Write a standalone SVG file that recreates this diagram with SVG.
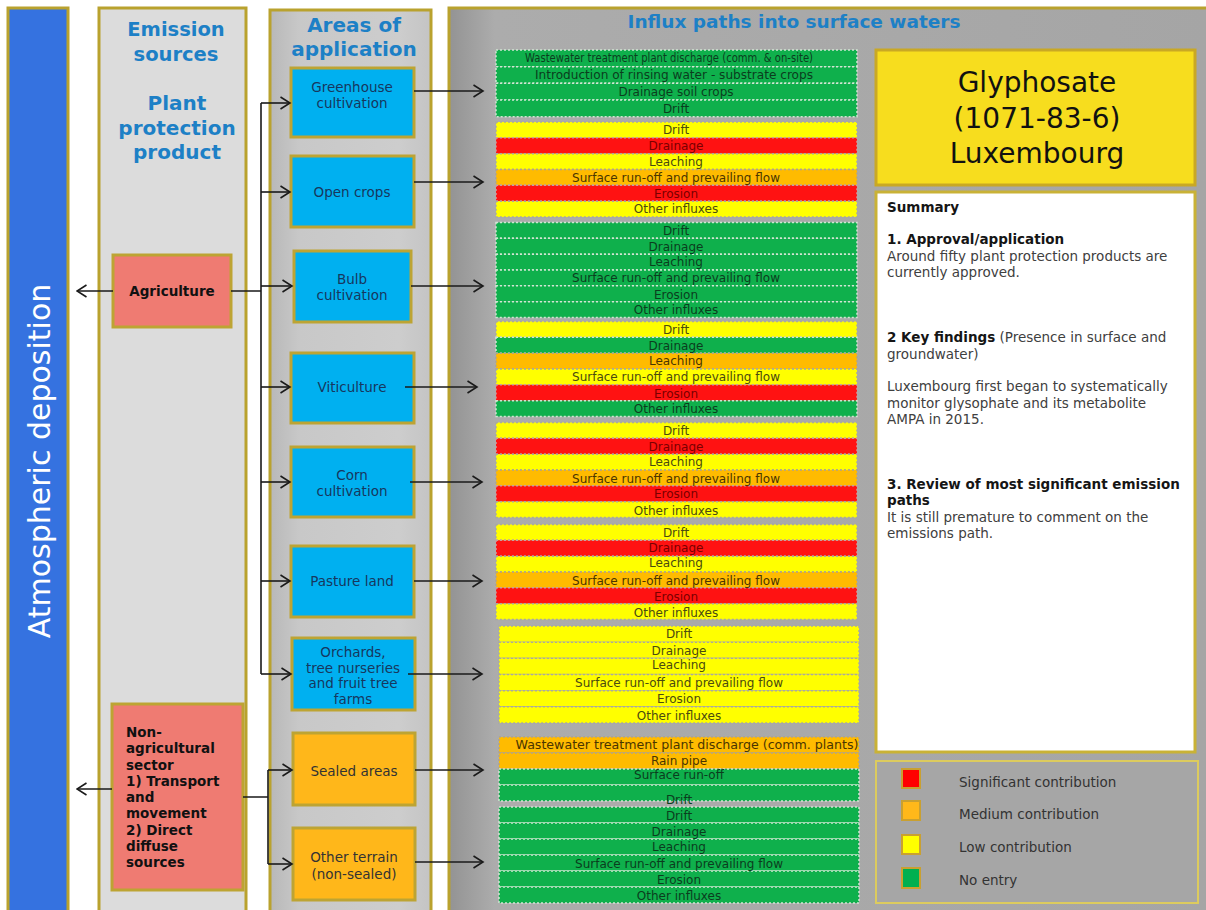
<svg xmlns="http://www.w3.org/2000/svg" width="1206" height="910" viewBox="0 0 1206 910">
<defs>
<linearGradient id="gArea" x1="0" x2="1" y1="0" y2="0"><stop offset="0" stop-color="#b8b8b8"/><stop offset="0.18" stop-color="#c8c8c8"/><stop offset="0.8" stop-color="#cdcdcd"/><stop offset="1" stop-color="#c4c4c4"/></linearGradient>
<linearGradient id="gInflux" x1="0" x2="1" y1="0" y2="0"><stop offset="0" stop-color="#939393"/><stop offset="0.06" stop-color="#acacac"/><stop offset="1" stop-color="#a5a5a5"/></linearGradient>
<marker id="ah" markerWidth="12" markerHeight="14" refX="10.5" refY="7" orient="auto" markerUnits="userSpaceOnUse"><path d="M1,1 L10.5,7 L1,13" fill="none" stroke="#1a1a1a" stroke-width="1.6"/></marker>
</defs>
<style>
.col{stroke:#b9a22e;stroke-width:3}
.hdr{font-family:"DejaVu Sans",Verdana,sans-serif;font-weight:bold;fill:#1d80c6;text-anchor:middle}
.box{stroke:#bda433;stroke-width:3}
.blue{fill:#00b0f0}
.amber{fill:#ffb71a}
.salmon{fill:#ef7b72}
.bt{font-family:"DejaVu Sans",Verdana,sans-serif;font-size:13.5px;fill:#17375e;text-anchor:middle}
.at{font-family:"DejaVu Sans",Verdana,sans-serif;font-size:13.5px;fill:#333;text-anchor:middle}
.st{font-family:"DejaVu Sans",Verdana,sans-serif;font-size:13.5px;font-weight:bold;fill:#111}
.row{stroke-width:1.5;stroke-dasharray:2 2}
.g{fill:#0fb04c;stroke:#cfe6d2}
.y{fill:#ffff00;stroke:#a9a9a0}
.o{fill:#ffbb00;stroke:#b0a48a}
.r{fill:#ff1212;stroke:#c8a0a0}
.rt{font-family:"DejaVu Sans",Verdana,sans-serif;font-size:12px;text-anchor:middle}
.tg{fill:#0b3d1e}.ty{fill:#4a4a10}.to{fill:#4a3500}.tr{fill:#7a0000}
.ln{fill:none;stroke:#1a1a1a;stroke-width:1.6}
.sm{font-family:"DejaVu Sans",Verdana,sans-serif;font-size:13.5px;fill:#404040}
.smb{font-weight:bold;fill:#151515}
.lg{font-family:"DejaVu Sans",Verdana,sans-serif;font-size:13.5px;fill:#333}
</style>
<rect width="1206" height="910" fill="#ffffff"/>

<g id="atmospheric-deposition">
<rect class="col" x="8" y="8" width="60" height="910" fill="#3572e0"/>
<text transform="translate(50,461) rotate(-90)" font-family="DejaVu Sans, Verdana, sans-serif" font-size="30" fill="#ffffff" text-anchor="middle">Atmospheric deposition</text>
</g>

<g id="emission-sources">
<rect class="col" x="99" y="8" width="147" height="910" fill="#dcdcdc"/>
<text class="hdr" font-size="19.5" x="176" y="36">Emission</text>
<text class="hdr" font-size="19.5" x="176" y="61">sources</text>
<text class="hdr" font-size="20" x="177" y="110">Plant</text>
<text class="hdr" font-size="20" x="177" y="135">protection</text>
<text class="hdr" font-size="20" x="177" y="159">product</text>
</g>

<g id="areas-of-application">
<rect class="col" x="270" y="10" width="161" height="905" fill="url(#gArea)"/>
<text class="hdr" font-size="20" x="354" y="32">Areas of</text>
<text class="hdr" font-size="20" x="354" y="56">application</text>
</g>

<g id="influx-paths">
<rect class="col" x="449" y="8" width="760" height="905" fill="url(#gInflux)"/>
<text class="hdr" font-size="18.5" x="794" y="28">Influx paths into surface waters</text>
</g>

<g id="agriculture">
<rect class="box salmon" x="113" y="255" width="118" height="72"/>
<text class="st" x="172" y="296" text-anchor="middle">Agriculture</text>
</g>

<g id="non-agricultural-sector">
<rect class="box salmon" x="112" y="704" width="131" height="186"/>
<text class="st" x="126" y="737">Non-</text>
<text class="st" x="126" y="753">agricultural</text>
<text class="st" x="126" y="769.5">sector</text>
<text class="st" x="126" y="785.5">1) Transport</text>
<text class="st" x="126" y="802">and</text>
<text class="st" x="126" y="818">movement</text>
<text class="st" x="126" y="834.5">2) Direct</text>
<text class="st" x="126" y="850.5">diffuse</text>
<text class="st" x="126" y="867">sources</text>
</g>

<g id="greenhouse-cultivation">
<rect class="box blue" x="291" y="68" width="123" height="69"/>
<text class="bt" x="352" y="92">Greenhouse</text>
<text class="bt" x="352" y="108">cultivation</text>
</g>
<g id="open-crops">
<rect class="box blue" x="291" y="156" width="123" height="71"/>
<text class="bt" x="352" y="197">Open crops</text>
</g>
<g id="bulb-cultivation">
<rect class="box blue" x="294" y="251" width="117" height="71"/>
<text class="bt" x="352" y="284">Bulb</text>
<text class="bt" x="352" y="300">cultivation</text>
</g>
<g id="viticulture">
<rect class="box blue" x="291" y="353" width="123" height="70"/>
<text class="bt" x="352" y="392">Viticulture</text>
</g>
<g id="corn-cultivation">
<rect class="box blue" x="291" y="447" width="123" height="70"/>
<text class="bt" x="352" y="480">Corn</text>
<text class="bt" x="352" y="496">cultivation</text>
</g>
<g id="pasture-land">
<rect class="box blue" x="291" y="546" width="123" height="71"/>
<text class="bt" x="352" y="586">Pasture land</text>
</g>
<g id="orchards">
<rect class="box blue" x="292" y="638" width="123" height="72"/>
<text class="bt" x="353" y="656.5">Orchards,</text>
<text class="bt" x="353" y="672.5">tree nurseries</text>
<text class="bt" x="353" y="688">and fruit tree</text>
<text class="bt" x="353" y="704">farms</text>
</g>
<g id="sealed-areas">
<rect class="box amber" x="293" y="733" width="122" height="72"/>
<text class="at" x="354" y="775.5">Sealed areas</text>
</g>
<g id="other-terrain">
<rect class="box amber" x="293" y="828" width="122" height="72"/>
<text class="at" x="354" y="862">Other terrain</text>
<text class="at" x="354" y="879">(non-sealed)</text>
</g>

<g id="influx-greenhouse">
<rect class="row g" x="496" y="50" width="361" height="16.67"/>
<rect class="row g" x="496" y="66.67" width="361" height="16.67"/>
<rect class="row g" x="496" y="83.33" width="361" height="16.67"/>
<rect class="row g" x="496" y="100" width="361" height="16.67"/>
<text class="rt tg" x="669" y="62" font-size="11" textLength="288" lengthAdjust="spacingAndGlyphs">Wastewater treatment plant discharge (comm. &amp; on-site)</text>
<text class="rt tg" x="674" y="78.5" font-size="11" textLength="278" lengthAdjust="spacingAndGlyphs">Introduction of rinsing water - substrate crops</text>
<text class="rt tg" x="676" y="95.5">Drainage soil crops</text>
<text class="rt tg" x="676" y="112.5">Drift</text>
</g>

<g id="influx-open-crops">
<rect class="row y" x="496" y="122" width="361" height="15.83"/>
<rect class="row r" x="496" y="137.83" width="361" height="15.83"/>
<rect class="row y" x="496" y="153.67" width="361" height="15.83"/>
<rect class="row o" x="496" y="169.5" width="361" height="15.83"/>
<rect class="row r" x="496" y="185.33" width="361" height="15.83"/>
<rect class="row y" x="496" y="201.17" width="361" height="15.83"/>
<text class="rt ty" x="676" y="134">Drift</text>
<text class="rt tr" x="676" y="150">Drainage</text>
<text class="rt ty" x="676" y="165.5">Leaching</text>
<text class="rt to" x="676" y="181.5">Surface run-off and prevailing flow</text>
<text class="rt tr" x="676" y="197.5">Erosion</text>
<text class="rt ty" x="676" y="213">Other influxes</text>
</g>

<g id="influx-bulb">
<rect class="row g" x="496" y="222.5" width="361" height="15.83"/>
<rect class="row g" x="496" y="238.33" width="361" height="15.83"/>
<rect class="row g" x="496" y="254.17" width="361" height="15.83"/>
<rect class="row g" x="496" y="270" width="361" height="15.83"/>
<rect class="row g" x="496" y="285.83" width="361" height="15.83"/>
<rect class="row g" x="496" y="301.67" width="361" height="15.83"/>
<text class="rt tg" x="676" y="234.5">Drift</text>
<text class="rt tg" x="676" y="250.5">Drainage</text>
<text class="rt tg" x="676" y="265.5">Leaching</text>
<text class="rt tg" x="676" y="282">Surface run-off and prevailing flow</text>
<text class="rt tg" x="676" y="298.5">Erosion</text>
<text class="rt tg" x="676" y="314">Other influxes</text>
</g>

<g id="influx-viticulture">
<rect class="row y" x="496" y="321.5" width="361" height="15.83"/>
<rect class="row g" x="496" y="337.33" width="361" height="15.83"/>
<rect class="row o" x="496" y="353.17" width="361" height="15.83"/>
<rect class="row y" x="496" y="369" width="361" height="15.83"/>
<rect class="row r" x="496" y="384.83" width="361" height="15.83"/>
<rect class="row g" x="496" y="400.67" width="361" height="15.83"/>
<text class="rt ty" x="676" y="333.5">Drift</text>
<text class="rt tg" x="676" y="349.5">Drainage</text>
<text class="rt to" x="676" y="364.5">Leaching</text>
<text class="rt ty" x="676" y="381">Surface run-off and prevailing flow</text>
<text class="rt tr" x="676" y="398">Erosion</text>
<text class="rt tg" x="676" y="413">Other influxes</text>
</g>

<g id="influx-corn">
<rect class="row y" x="496" y="422.5" width="361" height="15.83"/>
<rect class="row r" x="496" y="438.33" width="361" height="15.83"/>
<rect class="row y" x="496" y="454.17" width="361" height="15.83"/>
<rect class="row o" x="496" y="470" width="361" height="15.83"/>
<rect class="row r" x="496" y="485.83" width="361" height="15.83"/>
<rect class="row y" x="496" y="501.67" width="361" height="15.83"/>
<text class="rt ty" x="676" y="434.5">Drift</text>
<text class="rt tr" x="676" y="450.5">Drainage</text>
<text class="rt ty" x="676" y="465.5">Leaching</text>
<text class="rt to" x="676" y="483">Surface run-off and prevailing flow</text>
<text class="rt tr" x="676" y="498">Erosion</text>
<text class="rt ty" x="676" y="515">Other influxes</text>
</g>

<g id="influx-pasture">
<rect class="row y" x="496" y="524.5" width="361" height="15.83"/>
<rect class="row r" x="496" y="540.33" width="361" height="15.83"/>
<rect class="row y" x="496" y="556.17" width="361" height="15.83"/>
<rect class="row o" x="496" y="572" width="361" height="15.83"/>
<rect class="row r" x="496" y="587.83" width="361" height="15.83"/>
<rect class="row y" x="496" y="603.67" width="361" height="15.83"/>
<text class="rt ty" x="676" y="537">Drift</text>
<text class="rt tr" x="676" y="552">Drainage</text>
<text class="rt ty" x="676" y="567">Leaching</text>
<text class="rt to" x="676" y="585">Surface run-off and prevailing flow</text>
<text class="rt tr" x="676" y="601">Erosion</text>
<text class="rt ty" x="676" y="617">Other influxes</text>
</g>

<g id="influx-orchards">
<rect class="row y" x="499" y="626" width="360" height="16.17"/>
<rect class="row y" x="499" y="642.17" width="360" height="16.17"/>
<rect class="row y" x="499" y="658.33" width="360" height="16.17"/>
<rect class="row y" x="499" y="674.5" width="360" height="16.17"/>
<rect class="row y" x="499" y="690.67" width="360" height="16.17"/>
<rect class="row y" x="499" y="706.83" width="360" height="16.17"/>
<text class="rt ty" x="679" y="638">Drift</text>
<text class="rt ty" x="679" y="655">Drainage</text>
<text class="rt ty" x="679" y="669">Leaching</text>
<text class="rt ty" x="679" y="687">Surface run-off and prevailing flow</text>
<text class="rt ty" x="679" y="703">Erosion</text>
<text class="rt ty" x="679" y="720">Other influxes</text>
</g>

<g id="influx-sealed">
<rect class="row o" x="499" y="737" width="360" height="16"/>
<rect class="row o" x="499" y="753" width="360" height="16"/>
<rect class="row g" x="499" y="769" width="360" height="16"/>
<rect class="row g" x="499" y="785" width="360" height="16"/>
<text class="rt to" x="687" y="749" font-size="11.5" textLength="343" lengthAdjust="spacingAndGlyphs">Wastewater treatment plant discharge (comm. plants)</text>
<text class="rt to" x="679" y="765">Rain pipe</text>
<text class="rt tg" x="679" y="779">Surface run-off</text>
<text class="rt tg" x="679" y="804">Drift</text>
</g>

<g id="influx-other-terrain">
<rect class="row g" x="499" y="807" width="360" height="16"/>
<rect class="row g" x="499" y="823" width="360" height="16"/>
<rect class="row g" x="499" y="839" width="360" height="16"/>
<rect class="row g" x="499" y="855" width="360" height="16"/>
<rect class="row g" x="499" y="871" width="360" height="16"/>
<rect class="row g" x="499" y="887" width="360" height="16"/>
<text class="rt tg" x="679" y="820">Drift</text>
<text class="rt tg" x="679" y="836">Drainage</text>
<text class="rt tg" x="679" y="851">Leaching</text>
<text class="rt tg" x="679" y="868">Surface run-off and prevailing flow</text>
<text class="rt tg" x="679" y="884">Erosion</text>
<text class="rt tg" x="679" y="900">Other influxes</text>
</g>

<g id="glyphosate-title">
<rect x="876" y="50" width="319" height="135" fill="#f7dd1e" stroke="#c9a824" stroke-width="3"/>
<text x="1037" y="92" font-family="DejaVu Sans, Verdana, sans-serif" font-size="28" fill="#111" text-anchor="middle">Glyphosate</text>
<text x="1037" y="128" font-family="DejaVu Sans, Verdana, sans-serif" font-size="28" fill="#111" text-anchor="middle">(1071-83-6)</text>
<text x="1037" y="163" font-family="DejaVu Sans, Verdana, sans-serif" font-size="28" fill="#111" text-anchor="middle">Luxembourg</text>
</g>

<g id="summary">
<rect x="876" y="192" width="319" height="560" fill="#ffffff" stroke="#c9b236" stroke-width="3"/>
<text class="sm smb" x="887" y="212">Summary</text>
<text class="sm smb" x="887" y="244">1. Approval/application</text>
<text class="sm" x="887" y="261">Around fifty plant protection products are</text>
<text class="sm" x="887" y="277">currently approved.</text>
<text class="sm" x="887" y="342"><tspan class="smb">2 Key findings</tspan> (Presence in surface and</text>
<text class="sm" x="887" y="359">groundwater)</text>
<text class="sm" x="887" y="391">Luxembourg first began to systematically</text>
<text class="sm" x="887" y="408">monitor glysophate and its metabolite</text>
<text class="sm" x="887" y="424">AMPA in 2015.</text>
<text class="sm smb" x="887" y="489">3. Review of most significant emission</text>
<text class="sm smb" x="887" y="505">paths</text>
<text class="sm" x="887" y="522">It is still premature to comment on the</text>
<text class="sm" x="887" y="538">emissions path.</text>
</g>

<g id="legend">
<rect x="876" y="761" width="322" height="142" fill="#a6a6a6" stroke="#dccb5e" stroke-width="2"/>
<rect x="902" y="769" width="18" height="19" fill="#ff0000" stroke="#c9a030" stroke-width="2"/>
<rect x="902" y="801" width="18" height="19" fill="#ffb81a" stroke="#c9a030" stroke-width="2"/>
<rect x="902" y="835" width="18" height="19" fill="#ffff00" stroke="#c9a030" stroke-width="2"/>
<rect x="902" y="868" width="18" height="20" fill="#00b050" stroke="#c9a030" stroke-width="2"/>
<text class="lg" x="959" y="787">Significant contribution</text>
<text class="lg" x="959" y="819">Medium contribution</text>
<text class="lg" x="959" y="852">Low contribution</text>
<text class="lg" x="959" y="885">No entry</text>
</g>

<g id="connectors">
<path class="ln" d="M113,291 H77" marker-end="url(#ah)"/>
<path class="ln" d="M231,291 H261 M261,103 V674"/>
<path class="ln" d="M261,103 H290" marker-end="url(#ah)"/>
<path class="ln" d="M261,192 H290" marker-end="url(#ah)"/>
<path class="ln" d="M261,286 H292" marker-end="url(#ah)"/>
<path class="ln" d="M261,387 H290" marker-end="url(#ah)"/>
<path class="ln" d="M261,482 H290" marker-end="url(#ah)"/>
<path class="ln" d="M261,581 H290" marker-end="url(#ah)"/>
<path class="ln" d="M261,674 H291" marker-end="url(#ah)"/>
<path class="ln" d="M112,789 H77" marker-end="url(#ah)"/>
<path class="ln" d="M243,797 H268 M268,770 V864"/>
<path class="ln" d="M268,770 H292" marker-end="url(#ah)"/>
<path class="ln" d="M268,864 H292" marker-end="url(#ah)"/>
<path class="ln" d="M414,91 H483" marker-end="url(#ah)"/>
<path class="ln" d="M414,182 H483" marker-end="url(#ah)"/>
<path class="ln" d="M411,286 H483" marker-end="url(#ah)"/>
<path class="ln" d="M405,387 H477" marker-end="url(#ah)"/>
<path class="ln" d="M410,482 H482" marker-end="url(#ah)"/>
<path class="ln" d="M414,581 H482" marker-end="url(#ah)"/>
<path class="ln" d="M408,674 H482" marker-end="url(#ah)"/>
<path class="ln" d="M415,770 H483" marker-end="url(#ah)"/>
<path class="ln" d="M415,862 H483" marker-end="url(#ah)"/>
</g>
</svg>
